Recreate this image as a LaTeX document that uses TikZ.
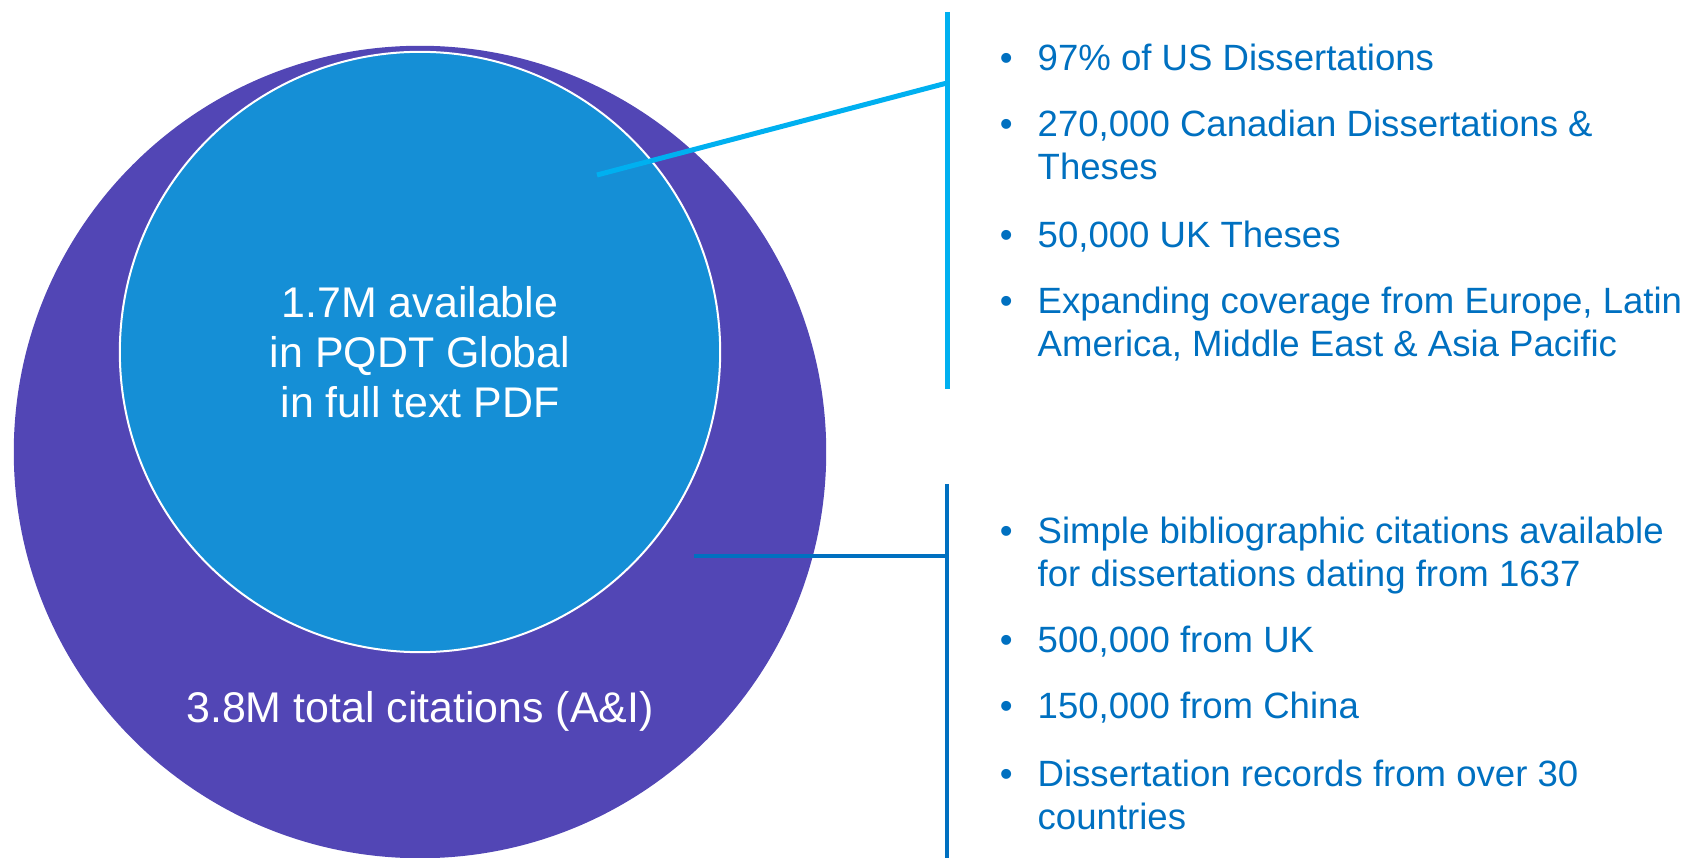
\documentclass[tikz,border=0pt]{standalone}
\usepackage{fontspec}
\setmainfont{Liberation Sans}
\definecolor{totalpurple}{HTML}{5246B5}
\definecolor{fullblue}{HTML}{158FD6}
\definecolor{linecyan}{HTML}{00B0F0}
\definecolor{lineblue}{HTML}{0070C0}
\tikzset{
  bigtext/.style={text=white, font=\fontsize{12.2pt}{14.2pt}\selectfont, align=center},
  itemtext/.style={text=lineblue, font=\fontsize{10.4pt}{12.23pt}\selectfont, align=left, anchor=base west, inner sep=0pt},
}
\newcommand{\bul}{\llap{\textbullet\hspace{0.25cm}}}

\begin{document}
\begin{tikzpicture}[x=0.01cm, y=-0.01cm]
\useasboundingbox (0,0) rectangle (1696,858);

\node (total) at (420,452) [circle, fill=totalpurple, minimum size=8.12cm, inner sep=0pt] {};
\node (full) at (420,352) [circle, fill=fullblue, draw=white, line width=0.02cm, minimum size=6cm, inner sep=0pt, bigtext] {1.7M available\\in PQDT Global\\in full text PDF};
\node (totallabel) at (420,723) [bigtext, anchor=base] {3.8M total citations (A\&I)};

\coordinate (upA) at (597,175);
\coordinate (upJ) at (947,83);
\coordinate (upT) at (947,12);
\coordinate (upB) at (947,389);
\draw[linecyan, line width=0.05cm] (upT) -- (upB);
\draw[linecyan, line width=0.05cm] (upA) -- (upJ);

\coordinate (loA) at (694,556);
\coordinate (loJ) at (947,556);
\coordinate (loT) at (947,484);
\coordinate (loB) at (947,858);
\draw[lineblue, line width=0.045cm] (loT) -- (loB);
\draw[lineblue, line width=0.045cm] (loA) -- (loJ);

% two-line items sit on the baseline of their last line
\node (us) at (1037,71) [itemtext] {\bul 97\% of US Dissertations};
\node (canada) at (1037,180) [itemtext] {\bul 270,000 Canadian Dissertations \&\\Theses};
\node (ukthes) at (1037,248) [itemtext] {\bul 50,000 UK Theses};
\node (expand) at (1037,357) [itemtext] {\bul Expanding coverage from Europe, Latin\\America, Middle East \& Asia Pacific};

\node (simple) at (1037,587) [itemtext] {\bul Simple bibliographic citations available\\for dissertations dating from 1637};
\node (ukrec) at (1037,653) [itemtext] {\bul 500,000 from UK};
\node (china) at (1037,719) [itemtext] {\bul 150,000 from China};
\node (records) at (1037,830) [itemtext] {\bul Dissertation records from over 30\\countries};
\end{tikzpicture}
\end{document}
